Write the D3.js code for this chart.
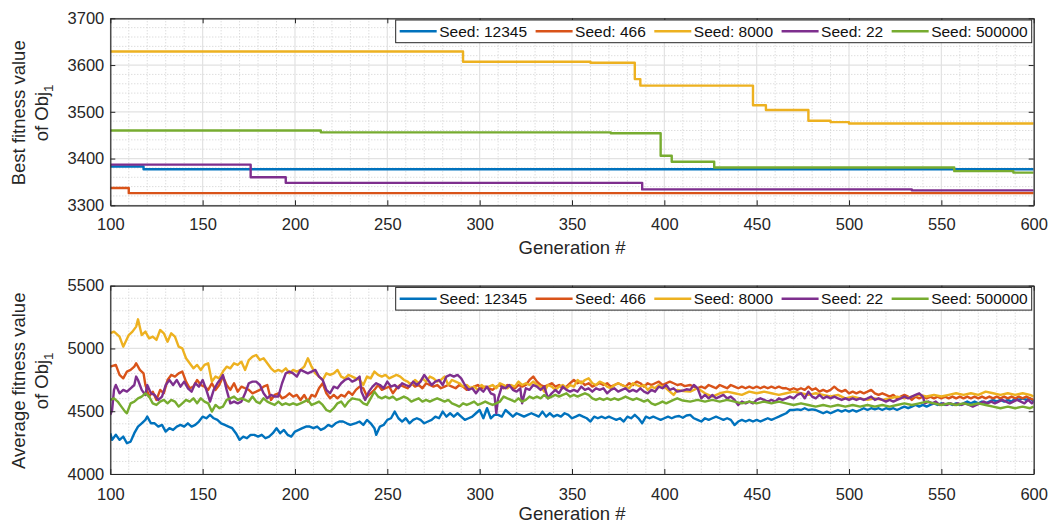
<!DOCTYPE html>
<html lang="en">
<head>
<meta charset="UTF-8">
<title>Fitness per generation</title>
<script src="https://d3js.org/d3.v7.min.js"></script>
<style>
  body { margin: 0; background: #fff; }
  svg { display: block; font-family: "Liberation Sans", Arial, sans-serif; }
  .axis path, .axis line { stroke: #262626; }
  .axis text { fill: #262626; font-size: 16.5px; }
</style>
</head>
<body>
<svg id="chart" width="1050" height="524"></svg>
<script>
// seeds / colours (MATLAB default order)
const seeds = ["Seed: 12345", "Seed: 466", "Seed: 8000", "Seed: 22", "Seed: 500000"];
const colors = ["#0072BD", "#D95319", "#EDB120", "#7E2F8E", "#77AC30"];
const xTicks = [100, 150, 200, 250, 300, 350, 400, 450, 500, 550, 600];

// best fitness: [generation, value] where the value holds from that generation on
const best12345 = [[100, 3383], [118, 3377], [600, 3377]];
const best466 = [[100, 3337], [110, 3326], [600, 3326]];
const best8000 = [[100, 3629], [291, 3607], [360, 3605], [384, 3570], [387, 3556], [448, 3514],
  [455, 3504], [478, 3481], [490, 3478], [500, 3475], [600, 3475]];
const best22 = [[100, 3387], [176, 3360], [195, 3348], [388, 3334], [534, 3332], [600, 3332]];
const best500000 = [[100, 3460], [214, 3456], [371, 3454], [398, 3406], [404, 3393], [427, 3381],
  [557, 3373], [589, 3370], [600, 3370]];

// average fitness per generation
const avg12345 = [[100,4325],[101,4272],[103,4312],[105,4272],[107,4298],[109,4245],[111,4258],[113,4325],[115,4378],[117,4404],[119,4431],[120,4457],[122,4404],[124,4404],[126,4378],[128,4391],[130,4338],[132,4365],[134,4351],[136,4378],[138,4391],[140,4378],[142,4404],[144,4378],[146,4391],[148,4418],[150,4457],[152,4444],[154,4471],[156,4444],[158,4431],[160,4404],[162,4391],[164,4378],[166,4365],[168,4325],[170,4272],[172,4298],[174,4285],[176,4312],[178,4312],[180,4298],[182,4312],[184,4285],[186,4298],[188,4325],[190,4365],[192,4325],[194,4351],[196,4312],[198,4298],[200,4338],[202,4351],[204,4365],[206,4378],[208,4378],[210,4365],[212,4378],[214,4351],[216,4365],[218,4391],[220,4378],[222,4404],[224,4418],[226,4418],[228,4404],[230,4391],[233,4405],[235,4418],[237,4391],[239,4431],[241,4404],[243,4365],[244,4312],[246,4378],[248,4391],[250,4431],[252,4444],[254,4497],[256,4444],[258,4418],[260,4444],[262,4404],[264,4431],[266,4444],[268,4431],[270,4404],[272,4418],[274,4431],[276,4457],[278,4444],[280,4497],[282,4457],[284,4484],[286,4457],[288,4484],[290,4457],[292,4431],[294,4444],[296,4457],[298,4484],[300,4510],[302,4444],[304,4524],[306,4444],[308,4471],[310,4471],[312,4457],[314,4510],[316,4484],[318,4457],[320,4484],[322,4471],[324,4457],[326,4471],[328,4484],[330,4471],[332,4457],[334,4497],[336,4457],[338,4484],[340,4457],[342,4471],[344,4457],[346,4484],[348,4471],[350,4444],[352,4457],[354,4471],[356,4457],[358,4444],[360,4418],[362,4457],[364,4444],[366,4457],[368,4444],[370,4457],[372,4444],[374,4431],[376,4444],[378,4418],[380,4457],[382,4444],[384,4471],[386,4444],[388,4404],[390,4457],[392,4444],[394,4457],[396,4444],[398,4431],[400,4444],[402,4457],[404,4444],[406,4457],[408,4462],[410,4448],[412,4466],[414,4471],[416,4444],[418,4431],[420,4418],[422,4444],[424,4431],[426,4444],[428,4457],[430,4444],[432,4431],[434,4444],[436,4431],[438,4390],[440,4418],[442,4431],[444,4418],[446,4431],[448,4418],[450,4431],[452,4418],[454,4431],[456,4444],[458,4431],[460,4444],[462,4457],[464,4471],[466,4484],[468,4510],[470,4510],[472,4515],[474,4510],[476,4524],[478,4510],[480,4515],[482,4510],[484,4497],[486,4484],[488,4497],[490,4484],[492,4497],[494,4510],[496,4497],[498,4510],[500,4497],[502,4510],[504,4497],[506,4510],[508,4524],[510,4510],[512,4524],[514,4515],[516,4524],[518,4510],[520,4524],[522,4515],[524,4524],[526,4510],[528,4524],[530,4537],[532,4524],[534,4537],[536,4550],[538,4537],[540,4550],[542,4537],[544,4550],[546,4563],[548,4550],[550,4563],[552,4550],[554,4563],[556,4550],[558,4563],[560,4550],[562,4563],[564,4577],[566,4563],[568,4577],[570,4563],[572,4577],[574,4563],[576,4577],[578,4590],[580,4577],[582,4590],[584,4577],[586,4590],[588,4577],[590,4603],[592,4590],[594,4603],[596,4590],[598,4603],[600,4577]];

const avg466 = [[100,4855],[103,4869],[105,4789],[107,4762],[109,4816],[111,4829],[113,4855],[114,4882],[116,4829],[118,4802],[119,4709],[121,4617],[123,4656],[125,4590],[127,4670],[129,4643],[131,4749],[133,4789],[135,4776],[137,4802],[139,4816],[141,4736],[143,4683],[145,4696],[147,4749],[149,4709],[151,4696],[153,4670],[155,4723],[157,4670],[159,4709],[161,4776],[163,4709],[165,4670],[167,4723],[169,4656],[171,4696],[173,4683],[175,4670],[177,4643],[179,4656],[181,4670],[183,4696],[185,4709],[187,4590],[189,4630],[191,4643],[193,4603],[195,4617],[197,4643],[199,4617],[201,4630],[203,4590],[205,4630],[207,4577],[209,4630],[211,4617],[213,4683],[215,4723],[217,4643],[219,4603],[221,4630],[223,4603],[225,4630],[227,4617],[229,4656],[231,4630],[233,4670],[235,4696],[237,4683],[239,4617],[241,4643],[243,4670],[245,4709],[247,4670],[249,4683],[251,4696],[253,4643],[255,4683],[257,4709],[259,4696],[261,4683],[263,4723],[265,4696],[267,4709],[269,4683],[271,4723],[273,4709],[275,4696],[277,4709],[279,4683],[281,4696],[283,4709],[285,4696],[287,4683],[289,4709],[291,4696],[293,4670],[295,4683],[297,4696],[299,4709],[301,4683],[303,4696],[305,4683],[307,4670],[309,4696],[311,4709],[313,4683],[315,4709],[317,4696],[319,4683],[321,4709],[323,4696],[325,4709],[327,4749],[329,4776],[331,4736],[333,4709],[335,4696],[337,4709],[339,4723],[341,4696],[343,4709],[345,4683],[347,4696],[349,4723],[351,4749],[353,4723],[355,4736],[357,4709],[359,4723],[361,4696],[363,4709],[365,4723],[367,4709],[369,4723],[371,4696],[373,4709],[375,4723],[377,4709],[379,4696],[381,4723],[383,4709],[385,4736],[387,4723],[389,4696],[391,4723],[393,4709],[395,4723],[397,4736],[399,4709],[401,4723],[403,4736],[405,4723],[407,4709],[409,4716],[411,4700],[414,4709],[416,4696],[418,4683],[420,4696],[422,4683],[424,4709],[426,4696],[428,4683],[430,4709],[432,4696],[434,4683],[436,4709],[438,4696],[440,4683],[442,4696],[444,4683],[446,4696],[448,4683],[450,4696],[452,4683],[454,4696],[456,4683],[458,4696],[460,4683],[462,4696],[464,4683],[466,4683],[468,4670],[470,4683],[472,4670],[474,4683],[476,4670],[478,4696],[480,4670],[482,4683],[484,4656],[486,4670],[488,4656],[490,4670],[492,4696],[494,4670],[496,4656],[498,4670],[500,4643],[502,4656],[504,4643],[506,4656],[508,4643],[510,4656],[512,4670],[514,4643],[516,4630],[518,4643],[520,4630],[522,4617],[524,4630],[526,4603],[528,4617],[530,4630],[532,4617],[534,4590],[536,4617],[538,4603],[540,4617],[542,4603],[544,4617],[546,4603],[548,4617],[550,4603],[552,4617],[554,4603],[556,4617],[558,4603],[560,4617],[562,4603],[564,4617],[566,4603],[568,4617],[570,4603],[572,4617],[574,4603],[576,4617],[578,4603],[580,4617],[582,4603],[584,4617],[586,4603],[588,4617],[590,4603],[592,4617],[594,4603],[596,4617],[598,4603],[600,4590]];

const avg8000 = [[100,5121],[102,5134],[105,5094],[107,5014],[110,5107],[112,5134],[114,5174],[115,5232],[117,5107],[119,5134],[121,5081],[123,5094],[125,5068],[127,5147],[129,5121],[131,5054],[133,5121],[135,5094],[137,5014],[139,5001],[141,4922],[143,4882],[145,4842],[147,4869],[149,4829],[151,4869],[153,4882],[155,4736],[157,4776],[159,4762],[161,4816],[163,4855],[165,4842],[167,4882],[169,4869],[171,4895],[173,4829],[175,4908],[177,4935],[179,4948],[181,4908],[183,4922],[185,4882],[187,4842],[189,4816],[191,4829],[193,4816],[195,4842],[197,4802],[199,4829],[201,4816],[203,4829],[205,4855],[207,4922],[209,4855],[211,4802],[213,4776],[215,4749],[217,4802],[219,4789],[221,4802],[223,4829],[225,4776],[227,4762],[229,4789],[231,4776],[233,4762],[235,4749],[237,4709],[239,4776],[241,4762],[243,4816],[245,4789],[247,4776],[249,4789],[251,4762],[253,4776],[255,4789],[257,4776],[259,4749],[261,4736],[263,4709],[265,4749],[267,4723],[269,4762],[271,4736],[273,4776],[275,4762],[277,4736],[279,4749],[281,4776],[283,4709],[285,4749],[287,4736],[289,4723],[291,4696],[293,4709],[295,4683],[297,4696],[299,4670],[301,4709],[303,4683],[305,4696],[307,4709],[309,4683],[311,4723],[313,4709],[315,4683],[317,4709],[319,4696],[321,4736],[323,4709],[325,4723],[327,4709],[329,4736],[331,4709],[333,4696],[335,4656],[337,4709],[339,4696],[341,4670],[343,4696],[345,4709],[347,4683],[349,4709],[351,4696],[353,4749],[355,4723],[357,4749],[359,4762],[361,4723],[363,4709],[365,4736],[367,4723],[369,4696],[371,4683],[373,4709],[375,4723],[377,4709],[379,4696],[381,4683],[383,4723],[385,4709],[387,4696],[389,4709],[391,4670],[393,4696],[395,4683],[397,4709],[399,4696],[401,4683],[403,4656],[405,4630],[407,4670],[410,4660],[414,4656],[418,4683],[422,4643],[426,4617],[430,4643],[434,4656],[438,4643],[442,4630],[446,4656],[450,4643],[454,4656],[458,4643],[462,4630],[466,4643],[470,4656],[474,4643],[478,4630],[482,4643],[486,4630],[490,4617],[494,4630],[498,4603],[502,4617],[506,4603],[510,4590],[514,4603],[518,4590],[522,4603],[526,4617],[530,4603],[534,4617],[538,4630],[542,4617],[546,4630],[550,4617],[554,4630],[558,4643],[562,4630],[566,4643],[570,4630],[574,4656],[578,4643],[582,4630],[586,4643],[590,4630],[594,4643],[598,4630],[600,4617]];

const avg22 = [[100,4471],[101,4510],[102,4670],[103,4709],[105,4643],[107,4670],[109,4656],[111,4683],[113,4709],[114,4776],[115,4749],[117,4670],[119,4630],[120,4709],[122,4643],[124,4630],[126,4590],[128,4617],[130,4709],[132,4749],[134,4709],[136,4749],[138,4696],[140,4736],[142,4683],[144,4656],[146,4723],[148,4696],[150,4749],[152,4670],[154,4577],[156,4670],[158,4723],[160,4762],[161,4789],[163,4670],[165,4563],[167,4577],[169,4563],[171,4577],[173,4643],[175,4723],[177,4736],[179,4736],[181,4709],[183,4643],[185,4603],[187,4630],[189,4617],[191,4617],[193,4723],[195,4802],[197,4816],[199,4802],[201,4776],[203,4829],[205,4816],[207,4802],[209,4816],[211,4829],[213,4776],[215,4749],[217,4670],[219,4643],[221,4696],[223,4683],[225,4723],[227,4749],[229,4762],[231,4736],[233,4750],[235,4776],[236,4656],[238,4590],[240,4656],[242,4696],[244,4723],[246,4709],[248,4683],[250,4736],[252,4696],[254,4709],[256,4683],[258,4723],[260,4709],[262,4696],[264,4736],[266,4709],[268,4736],[270,4789],[272,4749],[274,4709],[276,4736],[278,4749],[280,4709],[282,4776],[284,4789],[286,4776],[288,4789],[290,4762],[292,4709],[294,4670],[296,4683],[298,4643],[300,4683],[302,4656],[304,4696],[306,4643],[308,4630],[309,4484],[310,4603],[312,4696],[314,4683],[316,4709],[318,4670],[320,4656],[322,4683],[323,4563],[325,4683],[327,4670],[329,4709],[331,4696],[333,4670],[335,4696],[337,4603],[339,4643],[341,4670],[343,4643],[345,4696],[347,4670],[349,4656],[351,4670],[353,4656],[355,4696],[357,4670],[359,4683],[361,4656],[363,4683],[365,4670],[367,4683],[369,4643],[371,4670],[373,4683],[375,4656],[377,4670],[379,4683],[381,4656],[383,4670],[385,4656],[387,4683],[389,4656],[391,4643],[393,4670],[395,4656],[397,4696],[399,4683],[401,4709],[403,4670],[405,4683],[407,4656],[410,4665],[412,4675],[414,4670],[416,4709],[418,4683],[420,4603],[422,4630],[424,4603],[426,4630],[428,4603],[430,4617],[432,4630],[434,4603],[436,4617],[438,4590],[440,4550],[442,4577],[444,4563],[446,4577],[448,4563],[450,4590],[452,4603],[454,4590],[456,4577],[458,4590],[460,4577],[462,4603],[464,4590],[466,4603],[468,4617],[470,4603],[472,4630],[474,4643],[476,4603],[478,4656],[480,4617],[482,4603],[484,4630],[486,4603],[488,4617],[490,4603],[492,4617],[494,4603],[496,4590],[498,4603],[500,4590],[502,4603],[504,4590],[506,4603],[508,4590],[510,4603],[512,4617],[514,4590],[516,4603],[518,4590],[520,4577],[522,4590],[524,4577],[526,4590],[528,4603],[530,4617],[532,4603],[534,4617],[536,4630],[538,4643],[540,4617],[541,4563],[543,4577],[545,4563],[547,4577],[549,4550],[551,4563],[553,4550],[555,4563],[557,4550],[559,4563],[561,4550],[563,4563],[565,4550],[567,4537],[569,4550],[571,4563],[573,4577],[575,4563],[577,4577],[579,4563],[581,4577],[583,4590],[585,4577],[587,4563],[589,4577],[591,4590],[593,4577],[595,4563],[597,4590],[599,4563],[600,4577]];

const avg500000 = [[100,4590],[102,4603],[104,4577],[106,4537],[108,4497],[109,4484],[111,4563],[113,4577],[115,4603],[117,4617],[119,4643],[121,4617],[123,4563],[125,4550],[127,4577],[129,4590],[131,4563],[133,4590],[135,4577],[137,4537],[139,4563],[141,4590],[143,4577],[145,4603],[147,4563],[149,4603],[151,4577],[153,4563],[155,4497],[157,4550],[159,4524],[161,4537],[163,4590],[165,4603],[167,4617],[169,4590],[171,4603],[173,4590],[175,4577],[177,4617],[179,4577],[181,4563],[183,4603],[185,4577],[187,4563],[189,4550],[191,4577],[193,4550],[195,4563],[197,4550],[199,4563],[201,4550],[203,4563],[205,4577],[207,4590],[209,4550],[211,4563],[213,4577],[215,4550],[217,4510],[219,4497],[221,4524],[223,4563],[225,4577],[227,4537],[229,4577],[231,4603],[233,4596],[235,4590],[237,4563],[239,4550],[241,4603],[243,4656],[245,4617],[247,4603],[249,4617],[251,4603],[253,4617],[255,4590],[257,4603],[259,4617],[261,4603],[263,4577],[265,4590],[267,4603],[269,4577],[271,4590],[273,4577],[275,4590],[277,4603],[279,4590],[281,4577],[283,4590],[285,4563],[287,4550],[289,4537],[291,4563],[293,4550],[295,4563],[297,4577],[299,4550],[301,4563],[303,4577],[305,4563],[307,4550],[309,4563],[311,4577],[313,4617],[315,4603],[317,4590],[319,4577],[321,4603],[323,4577],[325,4590],[327,4617],[329,4603],[331,4617],[333,4603],[335,4630],[337,4603],[339,4617],[341,4630],[343,4617],[345,4630],[347,4643],[349,4617],[351,4630],[353,4617],[355,4630],[357,4643],[359,4630],[361,4603],[363,4590],[365,4603],[367,4590],[369,4603],[371,4590],[373,4603],[375,4590],[377,4603],[379,4617],[381,4603],[383,4590],[385,4603],[387,4590],[389,4577],[391,4590],[393,4563],[395,4550],[397,4563],[399,4577],[401,4563],[403,4577],[405,4590],[407,4603],[410,4585],[414,4577],[418,4590],[422,4577],[426,4590],[430,4577],[434,4590],[438,4577],[442,4563],[446,4577],[450,4563],[454,4577],[458,4563],[462,4577],[466,4563],[470,4550],[474,4563],[478,4550],[482,4537],[486,4550],[490,4537],[494,4550],[498,4537],[502,4550],[506,4537],[510,4550],[514,4537],[518,4550],[522,4537],[526,4550],[530,4563],[534,4550],[538,4563],[542,4577],[546,4563],[550,4550],[554,4563],[558,4550],[562,4563],[566,4550],[570,4563],[574,4550],[578,4537],[582,4524],[586,4537],[590,4524],[594,4537],[598,4524],[600,4537]];

const panels = [
  { top: 18.3, bottom: 205.3, domain: [3300, 3700], major: 100, minor: 20,
    label: "Best fitness value", series: [best12345, best466, best8000, best22, best500000],
    step: true, tickPad: 13, xLabelY: 254 },
  { top: 285.7, bottom: 474, domain: [4000, 5500], major: 500, minor: 100,
    label: "Average fitness value", series: [avg12345, avg466, avg8000, avg22, avg500000],
    step: false, tickPad: 14, xLabelY: 519.5 }
];

const left = 110.3, right = 1033.7;
const svg = d3.select("#chart");
const x = d3.scaleLinear().domain([100, 600]).range([left, right]);

panels.forEach((p, pi) => {
  const y = d3.scaleLinear().domain(p.domain).range([p.bottom, p.top]);
  const g = svg.append("g");

  // minor grid (dotted)
  const xMinor = d3.range(100, 601, 10).filter(v => v % 50 !== 0);
  const yMinor = d3.range(p.domain[0], p.domain[1] + 1, p.minor).filter(v => v % p.major !== 0);
  g.selectAll(".xminor").data(xMinor).join("line")
    .attr("x1", d => x(d)).attr("x2", d => x(d)).attr("y1", p.top).attr("y2", p.bottom)
    .attr("stroke", "#cfcfcf").attr("stroke-width", 1).attr("stroke-dasharray", "1,2");
  g.selectAll(".yminor").data(yMinor).join("line")
    .attr("x1", left).attr("x2", right).attr("y1", d => y(d)).attr("y2", d => y(d))
    .attr("stroke", "#cfcfcf").attr("stroke-width", 1).attr("stroke-dasharray", "1,2");

  // major grid
  const yMajor = d3.range(p.domain[0], p.domain[1] + 1, p.major);
  g.selectAll(".xmajor").data(xTicks).join("line")
    .attr("x1", d => x(d)).attr("x2", d => x(d)).attr("y1", p.top).attr("y2", p.bottom)
    .attr("stroke", "#e2e2e2").attr("stroke-width", 1.2);
  g.selectAll(".ymajor").data(yMajor).join("line")
    .attr("x1", left).attr("x2", right).attr("y1", d => y(d)).attr("y2", d => y(d))
    .attr("stroke", "#e2e2e2").attr("stroke-width", 1.2);

  // data lines
  const clipId = "clip" + pi;
  svg.append("clipPath").attr("id", clipId).append("rect")
    .attr("x", left).attr("y", p.top).attr("width", right - left).attr("height", p.bottom - p.top);
  const line = d3.line().x(d => x(d[0])).y(d => y(d[1]))
    .curve(p.step ? d3.curveStepAfter : d3.curveLinear);
  g.append("g").attr("clip-path", `url(#${clipId})`)
    .selectAll("path").data(p.series).join("path")
    .attr("d", line).attr("fill", "none")
    .attr("stroke", (d, i) => colors[i]).attr("stroke-width", 2.4)
    .attr("stroke-linejoin", "round");

  // axes with inward ticks on all four sides
  g.append("g").attr("class", "axis").attr("transform", `translate(0,${p.bottom})`)
    .call(d3.axisBottom(x).tickValues(xTicks).tickSizeInner(-5).tickSizeOuter(0).tickPadding(p.tickPad));
  g.append("g").attr("class", "axis").attr("transform", `translate(0,${p.top})`)
    .call(d3.axisTop(x).tickValues(xTicks).tickSizeInner(-5).tickSizeOuter(0).tickFormat(""));
  g.append("g").attr("class", "axis").attr("transform", `translate(${left},0)`)
    .call(d3.axisLeft(y).tickValues(yMajor).tickSizeInner(-5).tickSizeOuter(0).tickPadding(6).tickFormat(d3.format("d")));
  g.append("g").attr("class", "axis").attr("transform", `translate(${right},0)`)
    .call(d3.axisRight(y).tickValues(yMajor).tickSizeInner(-5).tickSizeOuter(0).tickFormat(""));
  g.selectAll(".axis path.domain").attr("stroke-width", 1.2);
  g.selectAll(".axis text").attr("font-family", null);

  // axis titles
  g.append("text").attr("x", (left + right) / 2).attr("y", p.xLabelY)
    .attr("text-anchor", "middle").attr("fill", "#262626").attr("font-size", 18.5)
    .text("Generation #");
  const cy = (p.top + p.bottom) / 2 + 1;
  g.append("text").attr("transform", `translate(25,${cy}) rotate(-90)`)
    .attr("text-anchor", "middle").attr("fill", "#262626").attr("font-size", 18.5)
    .text(p.label);
  const t2 = g.append("text").attr("transform", `translate(47.5,${cy}) rotate(-90)`)
    .attr("text-anchor", "middle").attr("fill", "#262626").attr("font-size", 18.5);
  t2.append("tspan").text("of Obj");
  t2.append("tspan").attr("dy", 5).attr("font-size", 13.5).text("1");

  // legend, one row, top right inside the axes
  const lg = g.append("g");
  const box = lg.append("rect").attr("y", p.top + 1.7).attr("height", 22.7)
    .attr("fill", "#fff").attr("stroke", "#262626").attr("stroke-width", 1);
  let cx = 4;
  seeds.forEach((s, i) => {
    const it = lg.append("g");
    it.append("line").attr("x1", cx).attr("x2", cx + 37)
      .attr("y1", p.top + 13).attr("y2", p.top + 13)
      .attr("stroke", colors[i]).attr("stroke-width", 2.4);
    const tx = it.append("text").attr("x", cx + 39.5).attr("y", p.top + 18.6)
      .attr("fill", "#111").attr("font-size", 15.5).text(s);
    cx += 39.5 + tx.node().getComputedTextLength() + (i < seeds.length - 1 ? 8.5 : 4);
  });
  box.attr("x", 0).attr("width", cx);
  lg.attr("transform", `translate(${right - 2 - cx},0)`);
});
</script>
</body>
</html>
